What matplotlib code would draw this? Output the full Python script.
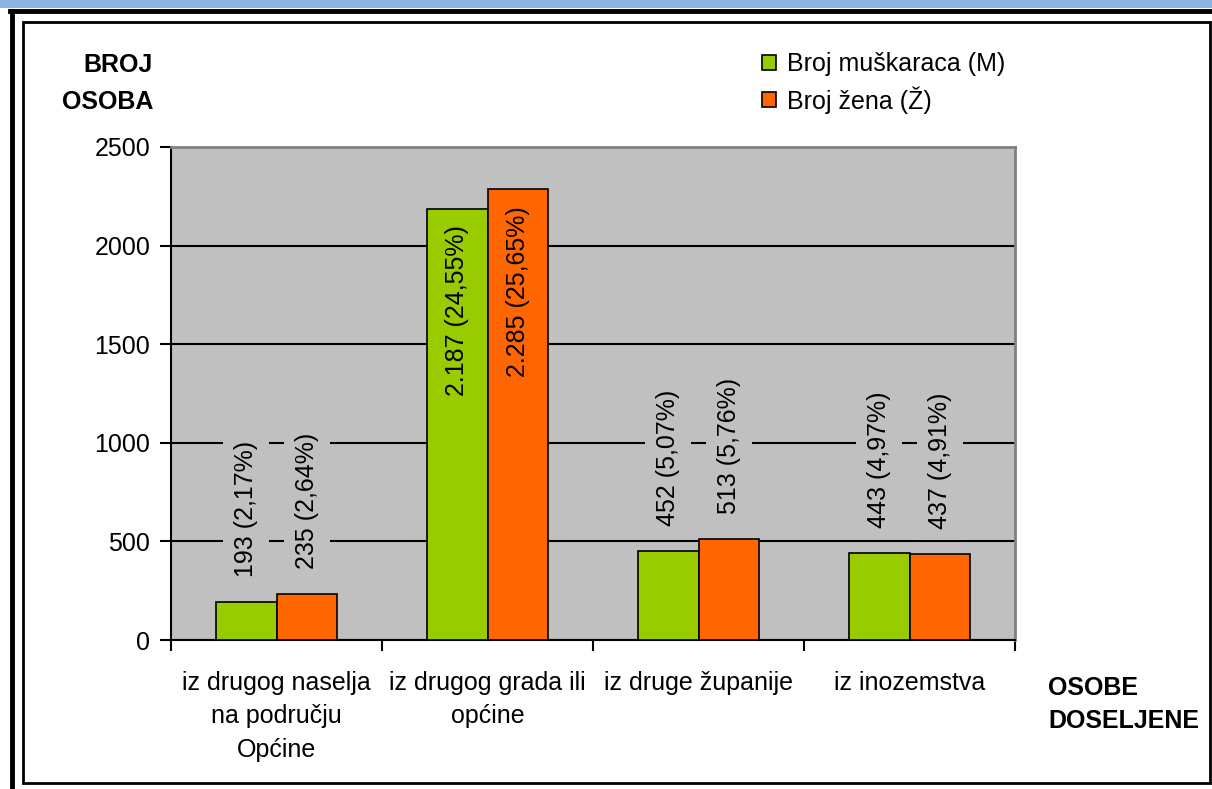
import numpy as np
import matplotlib
matplotlib.use("Agg")
import matplotlib.pyplot as plt
from matplotlib.patches import Patch, Rectangle
from matplotlib.lines import Line2D

plt.rcParams['font.family'] = ['Liberation Sans', 'DejaVu Sans']

# data
categories = ["iz drugog naselja\nna području\nOpćine",
              "iz drugog grada ili\nopćine",
              "iz druge županije",
              "iz inozemstva"]
men = [193, 2187, 452, 443]
women = [235, 2285, 513, 437]
men_labels = ["193 (2,17%)", "2.187 (24,55%)", "452 (5,07%)", "443 (4,97%)"]
women_labels = ["235 (2,64%)", "2.285 (25,65%)", "513 (5,76%)", "437 (4,91%)"]
series_names = ["Broj muškaraca (M)", "Broj žena (Ž)"]

green = "#99CC00"
orange = "#FF6600"
plot_bg = "#C0C0C0"
fs = 18

fig = plt.figure(figsize=(12.12, 7.89), dpi=100)

# frame decorations around the chart
fig.patches.append(Rectangle((0, 1 - 8/789), 1, 8/789, transform=fig.transFigure,
                             facecolor="#8DB3E2", edgecolor="none"))
fig.add_artist(Line2D([10/1212, 1], [1 - 11/789, 1 - 11/789], transform=fig.transFigure,
                      color="black", lw=3.5))
fig.add_artist(Line2D([12/1212, 12/1212], [0, 1 - 11/789], transform=fig.transFigure,
                      color="black", lw=3.5))
fig.patches.append(Rectangle((23/1212, 1 - 783/789), (1210 - 23)/1212, (783 - 22)/789,
                             transform=fig.transFigure, facecolor="none",
                             edgecolor="black", lw=2))

ax = fig.add_axes([171/1212, 1 - 640/789, (1015 - 171)/1212, (640 - 147)/789])
ax.set_facecolor(plot_bg)

x = np.arange(len(categories))
w = 0.286
b1 = ax.bar(x - w/2, men, w, color=green, edgecolor="black", lw=1.2, zorder=3)
b2 = ax.bar(x + w/2, women, w, color=orange, edgecolor="black", lw=1.2, zorder=3)

ax.set_ylim(0, 2500)
ax.set_xlim(-0.5, len(categories) - 0.5)
ax.set_yticks(np.arange(0, 2501, 500))
ax.yaxis.grid(True, color="black", lw=1.5, zorder=0)
ax.set_axisbelow(True)

ax.set_xticks(x)
ax.set_xticklabels(categories, fontsize=fs, linespacing=1.5)
ax.set_xticks(np.arange(-0.5, len(categories)), minor=True)
ax.tick_params(axis="x", which="major", length=0, pad=22)
ax.tick_params(axis="x", which="minor", length=8, width=1.5, direction="out")
ax.tick_params(axis="y", length=8, width=1.5, direction="out", labelsize=fs, pad=7)

for s in ["top", "right"]:
    ax.spines[s].set_color("#808080")
    ax.spines[s].set_linewidth(2)
for s in ["left", "bottom"]:
    ax.spines[s].set_color("black")
    ax.spines[s].set_linewidth(1.5)

# value labels: above the bar when it fits, otherwise inside the top
for bars, labels in [(b1, men_labels), (b2, women_labels)]:
    for rect, lab in zip(bars, labels):
        cx = rect.get_x() + rect.get_width() / 2
        h = rect.get_height()
        if h > 1500:
            ax.annotate(lab, (cx, h), xytext=(0, -12), textcoords="offset points",
                        rotation=90, ha="center", va="top", fontsize=fs, zorder=5)
        else:
            ax.annotate(lab, (cx, h), xytext=(0, 18), textcoords="offset points",
                        rotation=90, ha="center", va="bottom", fontsize=fs, zorder=5,
                        bbox=dict(facecolor=plot_bg, edgecolor="none", pad=8))

handles = [Patch(facecolor=green, edgecolor="black", lw=1.2),
           Patch(facecolor=orange, edgecolor="black", lw=1.2)]
fig.legend(handles, series_names, loc="upper left", bbox_to_anchor=(752/1212, 1 - 42/789),
           frameon=False, fontsize=fs, handlelength=0.55, handleheight=0.55,
           handletextpad=0.45, labelspacing=0.4, borderaxespad=0)

fig.text(153/1212, 1 - 53/789, "BROJ\nOSOBA", ha="right", va="top", fontsize=fs,
         fontweight="bold", linespacing=1.7)
fig.text(1048/1212, 1 - 676/789, "OSOBE\nDOSELJENE", ha="left", va="top", fontsize=fs,
         fontweight="bold", linespacing=1.5)

fig.savefig("out.png", dpi=100)
